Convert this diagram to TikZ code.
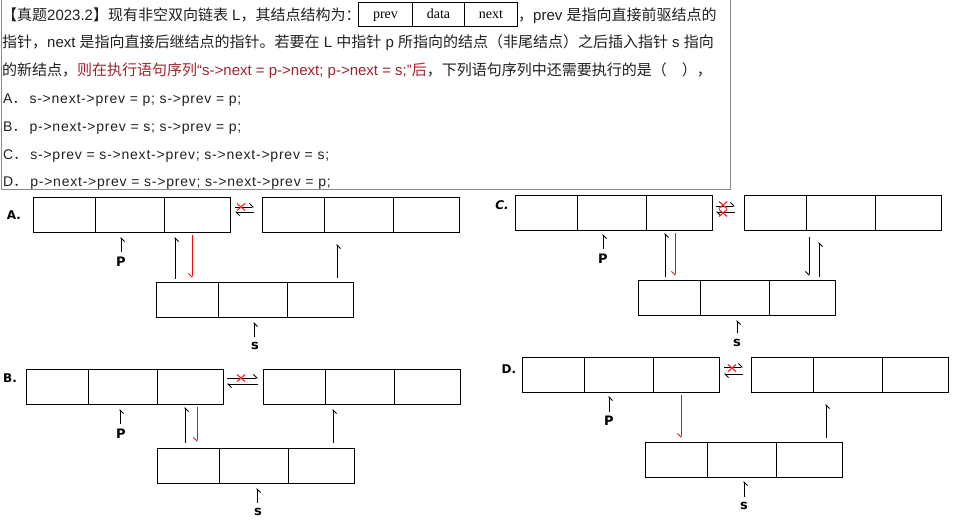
\documentclass[tikz,border=0pt]{standalone}
\usepackage{fontspec}
\setmainfont{Liberation Sans}
\newfontfamily\cjk{Noto Sans CJK SC}
\newfontfamily\tms{Liberation Serif}
\newfontfamily\dvs{DejaVu Sans}
\newfontfamily\optfont[LetterSpace=5.5]{Liberation Sans}
\usetikzlibrary{arrows.meta,calc}
\definecolor{txtc}{HTML}{202020}
\definecolor{qred}{HTML}{A3222B}
\definecolor{xred}{HTML}{FF2A2A}
\definecolor{arrred}{HTML}{E81010}
\definecolor{boxgray}{HTML}{8A8A8A}
\newcommand\zh[1]{{\cjk #1}}
\newcommand\dlist[3]{%
  \node[cell, minimum width=62pt] (#1a) at (#2,#3) {};
  \node[cell, minimum width=69pt] (#1b) at (#2+62,#3) {};
  \node[cell, minimum width=66pt] (#1c) at (#2+131,#3) {};
}
\newcommand\xmk[3]{\draw[xmark] (#2,#3) +(-4,-3.5) -- +(4,3.5) +(-4,3.5) -- +(4,-3.5);}
\begin{document}
\begin{tikzpicture}[x=1pt,y=-1pt,
  cell/.style={draw, line width=1.3pt, minimum height=35pt, inner sep=0pt, anchor=north west},
  tcell/.style={draw, line width=1pt, minimum height=24pt, inner sep=0pt, anchor=north west, text height=9.5pt, text depth=2pt, font=\tms\fontsize{14}{14}\selectfont},
  conn/.style={line width=0.9pt, -{Straight Barb[harpoon,swap,length=3.5pt,width=7pt]}},
  hconn/.style={line width=0.9pt, -{Straight Barb[harpoon,length=3.5pt,width=7pt]}},
  redconn/.style={conn, draw=arrred},
  xmark/.style={draw=xred, line width=1.2pt},
  lbl/.style={font=\dvs\bfseries\fontsize{13}{13}\selectfont, inner sep=0pt},
  optlbl/.style={font=\dvs\bfseries\fontsize{12}{12}\selectfont, inner sep=0pt},
  txt/.style={anchor=base west, inner sep=0pt, text=txtc, font=\fontsize{15}{15}\selectfont},
  opt/.style={anchor=base west, inner sep=0pt, text=txtc, font=\optfont\fontsize{14}{14}\selectfont}
]
\useasboundingbox (0,0) rectangle (954,521);
% question box
\draw[boxgray, line width=1pt] (1.5,-3) rectangle (730.5,190);
\node[txt] (l1a) at (2,21) {\zh{【真题}2023.2\zh{】现有非空双向链表} L\zh{，其结点结构为：}};
\node[tcell, minimum width=54pt] (tprev) at (358,2.5) {prev};
\node[tcell, minimum width=52pt] (tdata) at (412,2.5) {data};
\node[tcell, minimum width=53pt] (tnext) at (464,2.5) {next};
\node[txt] (l1b) at (518,21) {\zh{，}prev \zh{是指向直接前驱结点的}};
\node[txt] (l2) at (2,47.5) {\zh{指针，}next \zh{是指向直接后继结点的指针。若要在} L \zh{中指针} p \zh{所指向的结点（非尾结点）之后插入指针} s \zh{指向}};
\node[txt] (l3) at (2,76) {\zh{的新结点，}\textcolor{qred}{\zh{则在执行语句序列}“s->next = p->next; p->next = s;”\zh{后}}\zh{，下列语句序列中还需要执行的是（　），}};
\node[opt] (oa) at (3,104) {A\zh{．}\hspace{3pt}s->next->prev = p; s->prev = p;};
\node[opt] (ob) at (3,132) {B\zh{．}\hspace{3pt}p->next->prev = s; s->prev = p;};
\node[opt] (oc) at (3,160) {C\zh{．}\hspace{3pt}s->prev = s->next->prev; s->next->prev = s;};
\node[opt] (od) at (3,187) {D\zh{．}\hspace{3pt}p->next->prev = s->prev; s->next->prev = p;};

% ---------- A ----------
\node[optlbl] (LA) at (14,215) {A.};
\dlist{A1}{33}{197}
\dlist{A2}{262}{197}
\dlist{AS}{156}{282}
\coordinate (a1) at (235,207); \coordinate (a2) at (254,207);
\coordinate (a3) at (254,212); \coordinate (a4) at (235,212);
\draw[hconn] (a1) -- (a2);
\draw[hconn] (a3) -- (a4);
\xmk{ax}{241}{207}
\node[lbl] (Ap) at (121,262) {P};
\coordinate (ap1) at (121,252); \coordinate (ap2) at (121,237);
\draw[conn] (ap1) -- (ap2);
\coordinate (au1) at (175,279); \coordinate (au2) at (175,237);
\draw[conn] (au1) -- (au2);
\coordinate (ar1) at (192,235); \coordinate (ar2) at (192,278);
\draw[redconn] (ar1) -- (ar2);
\coordinate (ak1) at (337,278); \coordinate (ak2) at (337,244);
\draw[conn] (ak1) -- (ak2);
\node[lbl] (As) at (255,346) {s};
\coordinate (as1) at (254,337); \coordinate (as2) at (254,322);
\draw[conn] (as1) -- (as2);

% ---------- C ----------
\node[optlbl, font=\dvs\bfseries\itshape\fontsize{12}{12}\selectfont] (LC) at (502,205) {C.};
\dlist{C1}{515}{195}
\dlist{C2}{744}{195}
\dlist{CS}{638}{280}
\coordinate (c1) at (716,206); \coordinate (c2) at (735,206);
\coordinate (c3) at (735,212); \coordinate (c4) at (716,212);
\draw[hconn] (c1) -- (c2);
\draw[hconn] (c3) -- (c4);
\xmk{cx1}{723}{205}
\xmk{cx2}{723}{213}
\node[lbl] (Cp) at (603,259) {P};
\coordinate (cp1) at (603,249); \coordinate (cp2) at (603,234);
\draw[conn] (cp1) -- (cp2);
\coordinate (cu1) at (665,277); \coordinate (cu2) at (665,233);
\draw[conn] (cu1) -- (cu2);
\coordinate (cr1) at (675,233); \coordinate (cr2) at (675,276);
\draw[redconn] (cr1) -- (cr2);
\coordinate (cd1) at (809,237); \coordinate (cd2) at (809,276);
\draw[conn] (cd1) -- (cd2);
\coordinate (ck1) at (819,277); \coordinate (ck2) at (819,242);
\draw[conn] (ck1) -- (ck2);
\node[lbl] (Cs) at (737,343) {s};
\coordinate (cs1) at (737,333); \coordinate (cs2) at (737,320);
\draw[conn] (cs1) -- (cs2);

% ---------- B ----------
\node[optlbl] (LB) at (10,378) {B.};
\dlist{B1}{26}{369}
\dlist{B2}{263}{369}
\dlist{BS}{157}{448}
\coordinate (b1) at (227,378); \coordinate (b2) at (258,378);
\coordinate (b3) at (258,384); \coordinate (b4) at (227,384);
\draw[hconn] (b1) -- (b2);
\draw[hconn] (b3) -- (b4);
\xmk{bx}{241}{378}
\node[lbl] (Bp) at (121,434) {P};
\coordinate (bp1) at (120,424); \coordinate (bp2) at (120,409);
\draw[conn] (bp1) -- (bp2);
\coordinate (bu1) at (185,443); \coordinate (bu2) at (185,407);
\draw[conn] (bu1) -- (bu2);
\coordinate (br1) at (197,407); \coordinate (br2) at (197,442);
\draw[redconn] (br1) -- (br2);
\coordinate (bk1) at (333,443); \coordinate (bk2) at (333,409);
\draw[conn] (bk1) -- (bk2);
\node[lbl] (Bs) at (258,512) {s};
\coordinate (bs1) at (257,503); \coordinate (bs2) at (257,488);
\draw[conn] (bs1) -- (bs2);

% ---------- D ----------
\node[optlbl] (LD) at (509,369) {D.};
\dlist{D1}{522}{357}
\dlist{D2}{751}{357}
\dlist{DS}{645}{442}
\coordinate (d1) at (724,367); \coordinate (d2) at (743,367);
\coordinate (d3) at (743,374); \coordinate (d4) at (724,374);
\draw[hconn] (d1) -- (d2);
\draw[hconn] (d3) -- (d4);
\xmk{dx}{732}{368}
\node[lbl] (Dp) at (609,421) {P};
\coordinate (dp1) at (609,412); \coordinate (dp2) at (609,396);
\draw[conn] (dp1) -- (dp2);
\coordinate (dr1) at (681,395); \coordinate (dr2) at (681,438);
\draw[redconn] (dr1) -- (dr2);
\coordinate (dk1) at (826,438); \coordinate (dk2) at (826,404);
\draw[conn] (dk1) -- (dk2);
\node[lbl] (Ds) at (744,506) {s};
\coordinate (ds1) at (744,497); \coordinate (ds2) at (744,481);
\draw[conn] (ds1) -- (ds2);
\end{tikzpicture}
\end{document}
